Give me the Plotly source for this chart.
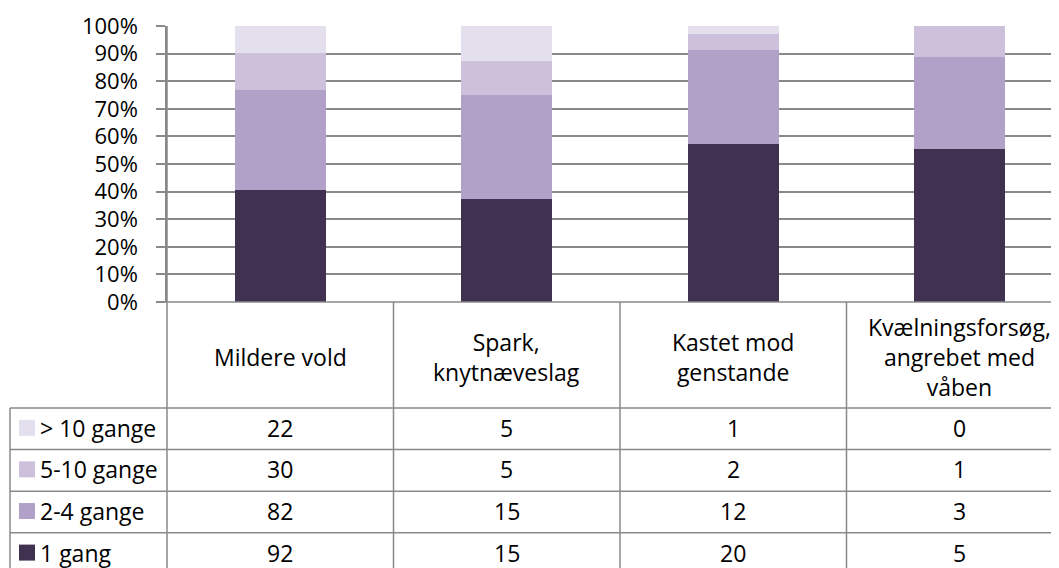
import plotly.graph_objects as go

# ---------------- data ----------------
categories = ["Mildere vold", "Spark,<br>knytnæveslag", "Kastet mod<br>genstande",
              "Kvælningsforsøg,<br>angrebet med<br>våben"]
series_names = ["1 gang", "2-4 gange", "5-10 gange", "> 10 gange"]
val_1 = [92, 15, 20, 5]
val_2_4 = [82, 15, 12, 3]
val_5_10 = [30, 5, 2, 1]
val_10p = [22, 5, 1, 0]
series_values = [val_1, val_2_4, val_5_10, val_10p]
colors = ["#403151", "#B1A0C7", "#CCC0DA", "#E4DFEC"]
y_ticks = [i / 10 for i in range(11)]

# ---------------- layout constants (window pixels) ----------------
OFF = 8                         # page body margin
W, H = 1059 - OFF, 568 - OFF    # figure size
L, T, B = 167, 26, 302          # plot-area left, top, bottom (window pixels)
CAT_PX = 226.5                  # width of one category column
PLOT_W = W - (L - OFF)
PLOT_H = B - T
HEADER_BOTTOM = 408
ROW_H = 41.6
TABLE_LEFT = 10
GRID = "#898989"
FONT = "Open Sans"
FS = 23

def py(Y):  # window pixel y -> paper y
    return (B - Y) / PLOT_H

def px(X):  # window pixel x -> paper x
    return (X - L) / PLOT_W

x_span = PLOT_W / CAT_PX
x_range = [-0.5, -0.5 + x_span]

fig = go.Figure()
for name, vals, col in zip(series_names, series_values, colors):
    fig.add_trace(go.Bar(x=list(range(len(categories))), y=vals, name=name,
                         marker=dict(color=col, line=dict(width=0)), width=0.4))

shapes = []
annotations = []
n = len(categories)
bottom_px = HEADER_BOTTOM + ROW_H * 4
# category separators in table
for b in range(n - 1):
    xb = (b + 0.5 - x_range[0]) / x_span
    shapes.append(dict(type="line", xref="paper", yref="paper", x0=xb, x1=xb,
                       y0=0, y1=py(bottom_px), line=dict(color=GRID, width=1.5)))
# y axis line extension
shapes.append(dict(type="line", xref="paper", yref="paper", x0=0, x1=0,
                   y0=1, y1=py(bottom_px), line=dict(color=GRID, width=1.5)))
# left border of legend column
shapes.append(dict(type="line", xref="paper", yref="paper", x0=px(TABLE_LEFT), x1=px(TABLE_LEFT),
                   y0=py(HEADER_BOTTOM), y1=py(bottom_px), line=dict(color=GRID, width=1.5)))
# horizontal table lines
for r in range(5):
    Y = HEADER_BOTTOM + ROW_H * r
    shapes.append(dict(type="line", xref="paper", yref="paper", x0=px(TABLE_LEFT), x1=1,
                       y0=py(Y), y1=py(Y), line=dict(color=GRID, width=1.5)))
# 0% line (table top)
shapes.append(dict(type="line", xref="paper", yref="paper", x0=px(158), x1=1,
                   y0=0, y1=0, line=dict(color=GRID, width=1.5)))

# header texts
for i, cat in enumerate(categories):
    annotations.append(dict(x=i, xref="x", y=py(357), yref="paper",
                            text=cat, showarrow=False, xanchor="center", yanchor="middle",
                            font=dict(family=FONT, size=FS, color="black")))

# table rows (top row = last series)
table_order = list(range(len(series_names)))[::-1]
for r, si in enumerate(table_order):
    yc = HEADER_BOTTOM + ROW_H * (r + 0.5) - 1
    shapes.append(dict(type="rect", xref="paper", yref="paper", x0=px(19), x1=px(35),
                       y0=py(yc - 8), y1=py(yc + 8), fillcolor=colors[si], line=dict(width=0)))
    annotations.append(dict(x=px(38), xref="paper", y=py(yc), yref="paper",
                            text=series_names[si], showarrow=False, xanchor="left", yanchor="middle",
                            font=dict(family=FONT, size=FS, color="black")))
    for i, v in enumerate(series_values[si]):
        annotations.append(dict(x=i, xref="x", y=py(yc), yref="paper", text=str(v),
                                showarrow=False, xanchor="center", yanchor="middle",
                                font=dict(family=FONT, size=FS, color="black")))

fig.update_layout(
    width=W, height=H, autosize=False,
    margin=dict(l=L - OFF, r=0, t=T - OFF, b=H - (B - OFF), pad=0),
    barmode="stack", barnorm="fraction",
    plot_bgcolor="white", paper_bgcolor="white",
    showlegend=False,
    font=dict(family=FONT, size=FS, color="black"),
    xaxis=dict(range=x_range, showticklabels=False, showgrid=False, zeroline=False,
               showline=False, ticks="", fixedrange=True),
    yaxis=dict(range=[0, 1], tickvals=y_ticks, tickformat=".0%", showgrid=True,
               gridcolor=GRID, gridwidth=1.5, zeroline=False, showline=True,
               linecolor=GRID, linewidth=1.5, ticks="outside", ticklen=9,
               tickcolor=GRID, tickwidth=1.5, ticklabelstandoff=14,
               tickfont=dict(family=FONT, size=22, color="black")),
    shapes=shapes, annotations=annotations,
)

fig.write_html("out.html")
